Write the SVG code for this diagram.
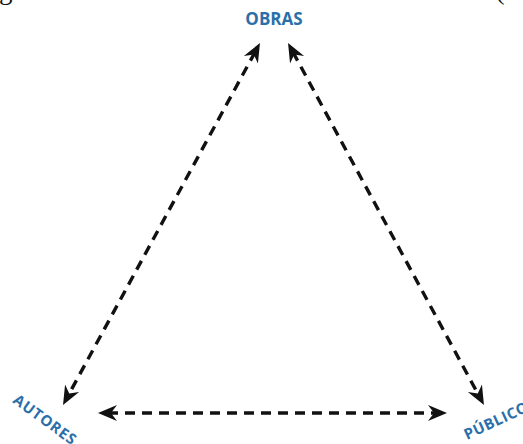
<svg xmlns="http://www.w3.org/2000/svg" width="523" height="444" viewBox="0 0 523 444">
  <style>
    .caption { font-family: "Liberation Serif", "Times New Roman", serif; font-size: 27px; fill: #111; }
    .label { font-family: "Open Sans", "Noto Sans", "Liberation Sans", sans-serif; font-weight: bold; fill: #2b6fa9; }
    .link { stroke: #111; stroke-width: 3.4; stroke-dasharray: 10 7; fill: none; }
  </style>
  <defs>
    <!-- notched arrowhead; tip sits 10px beyond the line end -->
    <marker id="head" markerUnits="userSpaceOnUse" markerWidth="24" markerHeight="24" refX="0" refY="0" orient="auto-start-reverse" overflow="visible">
      <path d="M10,0 L-9,-8 L-3,0 L-9,8 Z" fill="#111"/>
    </marker>
  </defs>

  <rect width="523" height="444" fill="#fff"/>

  <!-- caption line, cut off at the top edge -->
  <text class="caption" x="-23.5" y="-1">Figura 1 - Sistema triádico de Antonio Candido (</text>

  <g id="connectors">
    <line class="link" x1="255.2" y1="51.8" x2="67.8" y2="396.2" marker-start="url(#head)" marker-end="url(#head)"/>
    <line class="link" x1="292.8" y1="51.8" x2="479.2" y2="396.2" marker-start="url(#head)" marker-end="url(#head)"/>
    <line class="link" x1="108" y1="413" x2="437" y2="413" marker-start="url(#head)" marker-end="url(#head)"/>
  </g>

  <g id="obras">
    <text class="label" x="274" y="25" font-size="17" text-anchor="middle">OBRAS</text>
  </g>

  <g id="autores">
    <text class="label" font-size="15" letter-spacing="0.8" text-anchor="middle" transform="translate(42,424) rotate(36)">AUTORES</text>
  </g>

  <g id="publico">
    <text class="label" font-size="15" letter-spacing="0.5" transform="translate(467,440) rotate(-25)">PÚBLICO</text>
  </g>
</svg>
